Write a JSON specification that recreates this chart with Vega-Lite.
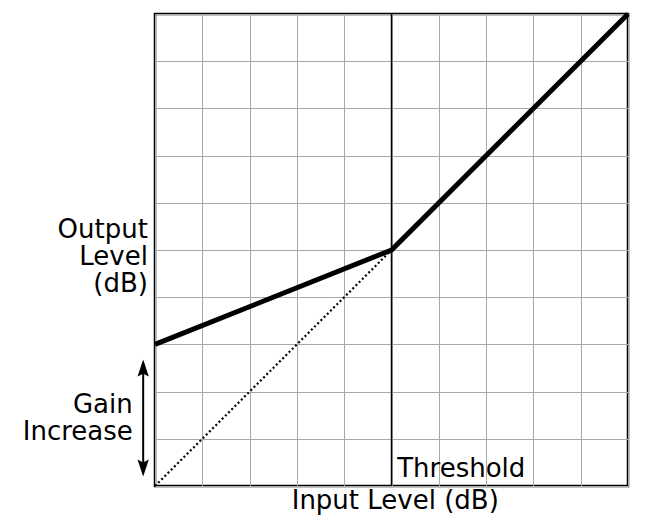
{
  "$schema": "https://vega.github.io/schema/vega-lite/v6.json",
  "autosize": {"type": "none"},
  "width": 473,
  "height": 472,
  "padding": {"left": 155, "top": 14, "right": 20, "bottom": 46},
  "background": "white",
  "view": {"stroke": "black", "strokeWidth": 2.5},
  "config": {"font": "DejaVu Sans"},
  "datasets": {
    "curve": [
      {"input": 0, "output": 3},
      {"input": 5, "output": 5},
      {"input": 10, "output": 10}
    ],
    "unity": [
      {"input": 0, "output": 0},
      {"input": 5, "output": 5}
    ],
    "threshold": [{"input": 5}],
    "labels": [
      {"x": -0.15, "y": 5.43, "text": "Output\nLevel\n(dB)"},
      {"x": -0.47, "y": 1.72, "text": "Gain\nIncrease"}
    ],
    "leftLabels": [
      {"x": 5.12, "y": 0.36, "text": "Threshold"}
    ],
    "bottom": [{"x": 5.08, "y": -0.31, "text": "Input Level (dB)"}],
    "arrow": [{"x": -0.25, "y1": 0.3, "y2": 2.6}],
    "heads": [
      {"x": -0.25, "y": 2.44, "dir": "up"},
      {"x": -0.25, "y": 0.44, "dir": "down"}
    ]
  },
  "encoding": {},
  "layer": [
    {
      "data": {"name": "curve"},
      "mark": {"type": "line", "color": "black", "strokeWidth": 5, "strokeJoin": "miter", "clip": false},
      "encoding": {
        "x": {"field": "input", "type": "quantitative", "scale": {"domain": [0, 10], "nice": false},
          "axis": {"values": [0,1,2,3,4,5,6,7,8,9,10], "labels": false, "ticks": false, "domain": false, "title": null, "grid": true, "gridColor": "#a8a8a8", "gridWidth": 1, "gridOpacity": 1}},
        "y": {"field": "output", "type": "quantitative", "scale": {"domain": [0, 10], "nice": false},
          "axis": {"values": [0,1,2,3,4,5,6,7,8,9,10], "labels": false, "ticks": false, "domain": false, "title": null, "grid": true, "gridColor": "#a8a8a8", "gridWidth": 1, "gridOpacity": 1}}
      }
    },
    {
      "data": {"name": "unity"},
      "mark": {"type": "line", "color": "black", "strokeWidth": 2.2, "strokeDash": [2, 2.5]},
      "encoding": {
        "x": {"field": "input", "type": "quantitative"},
        "y": {"field": "output", "type": "quantitative"}
      }
    },
    {
      "data": {"name": "threshold"},
      "mark": {"type": "rule", "color": "black", "strokeWidth": 1.5},
      "encoding": {"x": {"field": "input", "type": "quantitative"}}
    },
    {
      "data": {"name": "arrow"},
      "mark": {"type": "rule", "color": "black", "strokeWidth": 2},
      "encoding": {
        "x": {"field": "x", "type": "quantitative"},
        "y": {"field": "y1", "type": "quantitative"},
        "y2": {"field": "y2"}
      }
    },
    {
      "data": {"name": "heads"},
      "mark": {"type": "point", "filled": true, "color": "black", "opacity": 1, "size": 357, "strokeWidth": 0},
      "encoding": {
        "x": {"field": "x", "type": "quantitative"},
        "y": {"field": "y", "type": "quantitative"},
        "shape": {"field": "dir", "type": "nominal", "scale": {"domain": ["up", "down"], "range": ["M0,-1.2L0.6,0.6L0,0.3L-0.6,0.6Z", "M0,1.2L0.6,-0.6L0,-0.3L-0.6,-0.6Z"]}, "legend": null}
      }
    },
    {
      "data": {"name": "labels"},
      "mark": {"type": "text", "fontSize": 26, "align": "right", "baseline": "middle", "color": "black", "lineBreak": "\n", "lineHeight": 27},
      "encoding": {
        "x": {"field": "x", "type": "quantitative"},
        "y": {"field": "y", "type": "quantitative"},
        "text": {"field": "text"}
      }
    },
    {
      "data": {"name": "leftLabels"},
      "mark": {"type": "text", "fontSize": 26, "align": "left", "baseline": "middle", "color": "black"},
      "encoding": {
        "x": {"field": "x", "type": "quantitative"},
        "y": {"field": "y", "type": "quantitative"},
        "text": {"field": "text"}
      }
    },
    {
      "data": {"name": "bottom"},
      "mark": {"type": "text", "fontSize": 26, "align": "center", "baseline": "middle", "color": "black"},
      "encoding": {
        "x": {"field": "x", "type": "quantitative"},
        "y": {"field": "y", "type": "quantitative"},
        "text": {"field": "text"}
      }
    }
  ]
}
